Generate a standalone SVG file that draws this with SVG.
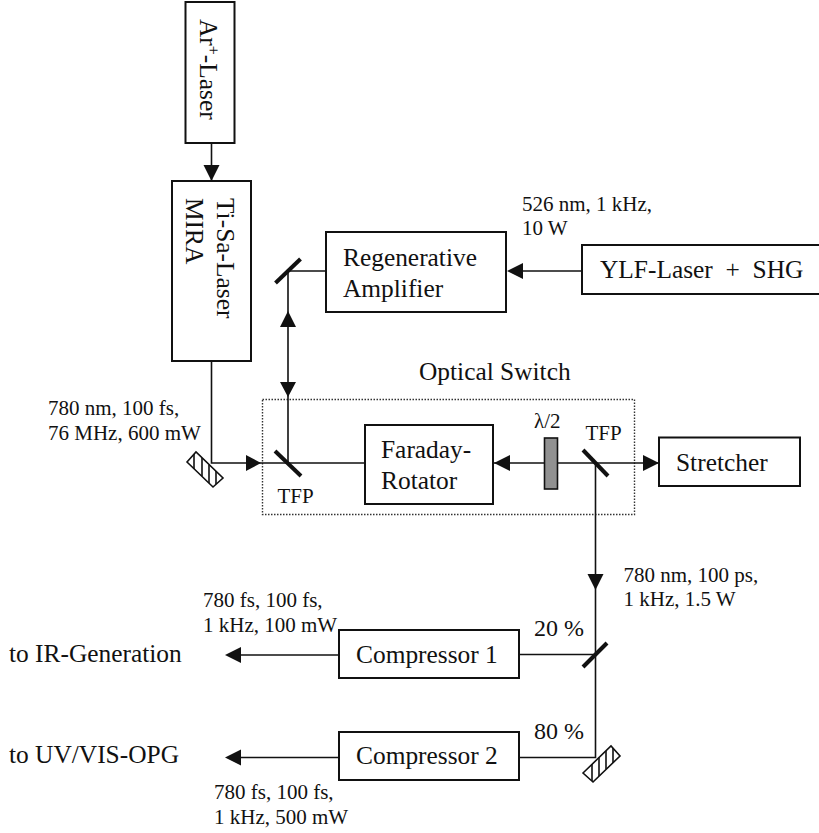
<svg xmlns="http://www.w3.org/2000/svg" width="819" height="833" viewBox="0 0 819 833">
<style>
text{font-family:"Liberation Serif","Times New Roman",serif;fill:#111}
.m{font-size:25.4px}
.p{font-size:24px}
.s{font-size:21px}
.b{fill:#fff;stroke:#111;stroke-width:2}
.c{fill:none;stroke:#111;stroke-width:1.6}
.o{fill:none;stroke:#111;stroke-width:4}
.h{fill:#111}
.t{fill:#fff;stroke:#111;stroke-width:1.6}
</style>
<rect id="optical-switch" x="262.5" y="399.5" width="372" height="115" fill="none" stroke="#333" stroke-width="1.4" stroke-dasharray="1.5 1.5"/>
<g id="connectors">
<path class="c" d="M211.5 143V181"/>
<path class="h" d="M211.500 181l-8-16h16z"/>
<path class="c" d="M211.500 361V463H365"/>
<path class="h" d="M261 463l-15-8v16z"/>
<path class="c" d="M288 463V271H326"/>
<path class="h" d="M288 397l-8-15h16z"/>
<path class="h" d="M288 311l-8 16h16z"/>
<path class="c" d="M493 463H658"/>
<path class="h" d="M494 463l16-8v16z"/>
<path class="h" d="M659 463l-16-8v16z"/>
<path class="c" d="M595.500 463V757.500H519"/>
<path class="h" d="M595.500 590l-8-16h16z"/>
<path class="c" d="M595.500 654.500H519"/>
<path class="c" d="M339 655H241"/>
<path class="h" d="M225 655l16-8v16z"/>
<path class="c" d="M339 757.500H241"/>
<path class="h" d="M225 757.500l16-8v16z"/>
<path class="c" d="M582 271H523"/>
<path class="h" d="M507 271l16-8v16z"/>
</g>
<g id="ar-laser"><rect class="b" x="185.500" y="2" width="49" height="141"/><text class="m" transform="translate(199.500 19) rotate(90)">Ar<tspan font-size="16" dy="-8">+</tspan><tspan dy="8">-Laser</tspan></text></g>
<g id="ti-sa-laser"><rect class="b" x="172" y="181" width="79" height="180"/><text class="m" transform="translate(216.500 198) rotate(90)">Ti-Sa-Laser</text><text class="m" transform="translate(186 198) rotate(90)">MIRA</text></g>
<g id="regenerative-amplifier"><rect class="b" x="326" y="232" width="180" height="80"/><text class="m" x="343" y="266">Regenerative</text><text class="m" x="343" y="297">Amplifier</text></g>
<g id="ylf-laser"><rect class="b" x="582" y="245" width="240" height="49"/><text class="m" x="600" y="278" xml:space="preserve">YLF-Laser  +  SHG</text></g>
<g id="faraday-rotator"><rect class="b" x="365" y="425" width="128" height="79"/><text class="m" x="381" y="458">Faraday-</text><text class="m" x="381" y="489">Rotator</text></g>
<g id="stretcher"><rect class="b" x="659" y="437.500" width="141" height="48.500"/><text class="m" x="676" y="471">Stretcher</text></g>
<g id="compressor-1"><rect class="b" x="339" y="630" width="180" height="48"/><text class="m" x="356" y="663">Compressor 1</text></g>
<g id="compressor-2"><rect class="b" x="339" y="732" width="180" height="48"/><text class="m" x="356" y="764">Compressor 2</text></g>
<g id="mirror-top"><path class="o" d="M275.500 283L300.500 259"/></g>
<g id="tfp-1"><path class="o" d="M275 451L301 476"/><text class="s" x="277.500" y="503">TFP</text></g>
<g id="tfp-2"><path class="o" d="M583 450L608 476"/><text class="s" x="585.500" y="440">TFP</text></g>
<g id="waveplate"><rect x="544.500" y="438" width="13" height="51" fill="#919191" stroke="#111" stroke-width="1.600"/><text class="s" x="534" y="428">λ/2</text></g>
<g id="beam-splitter"><path class="o" d="M583 667L607 643"/></g>
<g id="mirror-left"><path class="t" d="M187 462L196 452L223 478L213 487Z"/><path class="c" d="M194 454V469M202 458V476M209 465V483M216 471V484"/></g>
<g id="mirror-bottom"><path class="t" d="M583 773L611 746L620 756L593 782Z"/><path class="c" d="M592 764V781M599 757.500V776M606 751V769M613 748V763"/></g>
<g id="labels">
<text class="s" x="522" y="211">526 nm, 1 kHz,</text><text class="s" x="522" y="235">10 W</text>
<text class="m" x="419" y="380">Optical Switch</text>
<text class="s" x="48" y="415">780 nm, 100 fs,</text><text class="s" x="48" y="440">76 MHz, 600 mW</text>
<text class="s" x="623.500" y="582">780 nm, 100 ps,</text><text class="s" x="623.500" y="606">1 kHz, 1.5 W</text>
<text class="s" x="203" y="607">780 fs, 100 fs,</text><text class="s" x="203" y="632">1 kHz, 100 mW</text>
<text class="s" x="214" y="799">780 fs, 100 fs,</text><text class="s" x="214" y="824">1 kHz, 500 mW</text>
<text class="m" x="9" y="662">to IR-Generation</text><text class="m" x="9" y="763">to UV/VIS-OPG</text>
<text class="p" x="534" y="636">20 %</text><text class="p" x="534" y="739">80 %</text>
</g>
</svg>
